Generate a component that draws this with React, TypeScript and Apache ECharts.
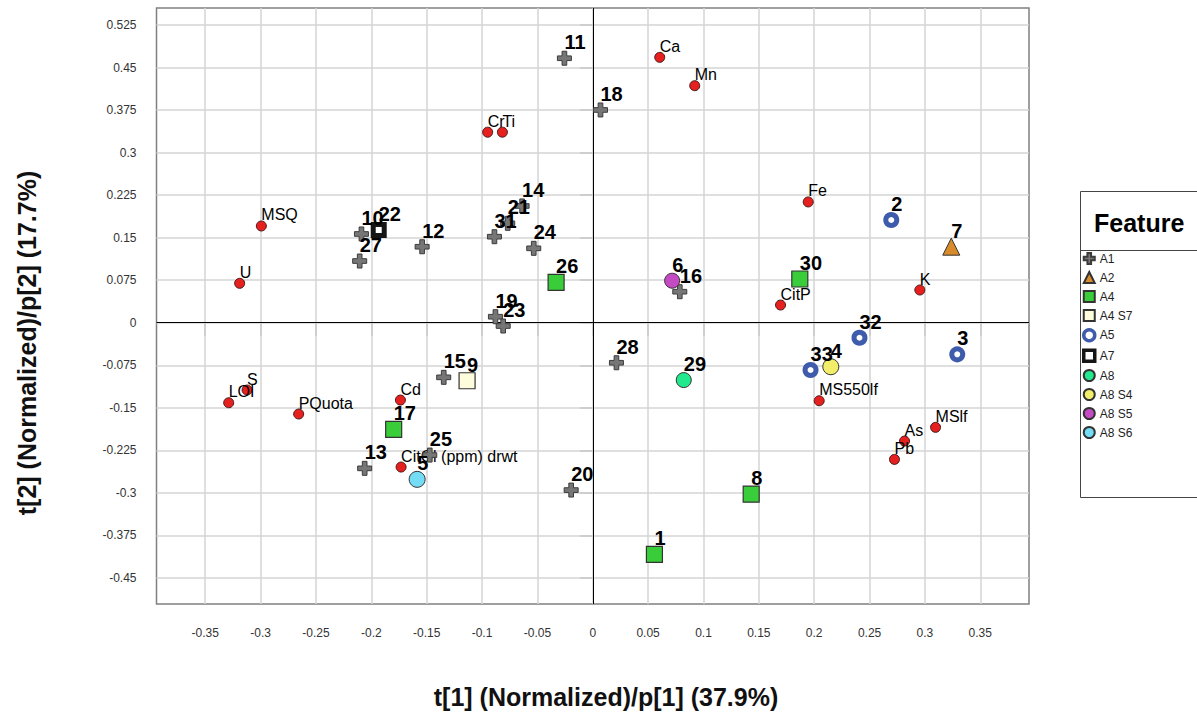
import React, { useEffect, useRef } from "react";
import * as echarts from "echarts";

// ---------- data ----------
const X_TICKS = [-0.35, -0.3, -0.25, -0.2, -0.15, -0.1, -0.05, 0, 0.05, 0.1, 0.15, 0.2, 0.25, 0.3, 0.35];
const Y_TICKS = [-0.45, -0.375, -0.3, -0.225, -0.15, -0.075, 0, 0.075, 0.15, 0.225, 0.3, 0.375, 0.45, 0.525];

const VAR_NAMES = ["Ca", "Mn", "Cr", "Ti", "Fe", "MSQ", "U", "K", "CitP", "S", "LOI", "PQuota", "Cd", "MS550lf", "MSlf", "As", "Pb", "CitOl (ppm) drwt"];
const VAR_T1 = [0.0605, 0.0921, -0.0949, -0.0816, 0.1946, -0.2993, -0.3189, 0.2954, 0.1696, -0.3122, -0.3288, -0.2656, -0.1737, 0.2045, 0.3096, 0.2816, 0.2725, -0.1731];
const VAR_T2 = [0.468, 0.418, 0.336, 0.336, 0.213, 0.1706, 0.0695, 0.0577, 0.0312, -0.1187, -0.1411, -0.161, -0.1364, -0.1376, -0.1845, -0.2087, -0.241, -0.2545];

const A1_IDS = ["10", "27", "12", "14", "21", "31", "24", "19", "23", "18", "11", "16", "28", "20", "13", "25", "15"];
const A1_T1 = [-0.2089, -0.2105, -0.1541, -0.0638, -0.0768, -0.0888, -0.0533, -0.0879, -0.0809, 0.007, -0.0256, 0.0786, 0.0214, -0.0195, -0.206, -0.1472, -0.1346];
const A1_T2 = [0.1565, 0.1088, 0.134, 0.2059, 0.1753, 0.1517, 0.1312, 0.0106, -0.0058, 0.3752, 0.4664, 0.0547, -0.0706, -0.2951, -0.2568, -0.2334, -0.0963];

const A2_IDS = ["7"];
const A2_T1 = [0.3238];
const A2_T2 = [0.1341];

const A4_IDS = ["26", "30", "17", "8", "1"];
const A4_T1 = [-0.0331, 0.187, -0.1798, 0.1431, 0.0557];
const A4_T2 = [0.0713, 0.0771, -0.188, -0.3022, -0.4085];

const A4S7_IDS = ["9"];
const A4S7_T1 = [-0.1135];
const A4S7_T2 = [-0.1023];

const A5_IDS = ["2", "32", "3", "33"];
const A5_T1 = [0.2696, 0.2409, 0.3292, 0.1967];
const A5_T2 = [0.1812, -0.0265, -0.0557, -0.0834];

const A7_IDS = ["22"];
const A7_T1 = [-0.1933];
const A7_T2 = [0.1635];

const A8_IDS = ["29"];
const A8_T1 = [0.0822];
const A8_T2 = [-0.1011];

const A8S4_IDS = ["4"];
const A8S4_T1 = [0.215];
const A8S4_T2 = [-0.0776];

const A8S5_IDS = ["6"];
const A8S5_T1 = [0.0717];
const A8S5_T2 = [0.0741];

const A8S6_IDS = ["5"];
const A8S6_T1 = [-0.1586];
const A8S6_T2 = [-0.2762];

const LEGEND_NAMES = ["A1", "A2", "A4", "A4 S7", "A5", "A7", "A8", "A8 S4", "A8 S5", "A8 S6"];

// ---------- styling ----------
const FONT = "'Liberation Sans', Arial, Helvetica, sans-serif";
const CROSS = "path://M4,0 H8 V4 H12 V8 H8 V12 H4 V8 H0 V4 H4 Z";

const build = (ids: string[], xs: number[], ys: number[]) =>
  ids.map((id, i) => ({ name: id, value: [xs[i], ys[i]] }));

const obsLabel = {
  show: true,
  position: "inside" as const,
  align: "left" as const,
  verticalAlign: "middle" as const,
  offset: [0, -16],
  formatter: "{b}",
  fontFamily: FONT,
  fontSize: 20,
  fontWeight: "bold" as const,
  color: "#000",
};

const obsSeries = (
  name: string,
  data: any[],
  symbol: string,
  size: number,
  color: string,
  borderColor: string,
  borderWidth: number
) => ({
  type: "scatter",
  name,
  data,
  symbol,
  symbolSize: size,
  z: 5,
  itemStyle: { color, borderColor, borderWidth, opacity: 1 },
  label: obsLabel,
  emphasis: { disabled: true },
});

export default function App() {
  const ref = useRef<HTMLDivElement>(null);

  useEffect(() => {
    if (!ref.current) return;
    const chart = echarts.init(ref.current, undefined, { renderer: "svg" });

    const legendData = LEGEND_NAMES.map((n) => {
      if (n === "A5") return { name: n, itemStyle: { color: "#ffffff", borderColor: "#3f5bab", borderWidth: 3.5 } };
      if (n === "A7") return { name: n, itemStyle: { color: "#ffffff", borderColor: "#151515", borderWidth: 3.5 } };
      return { name: n };
    });

    const option: any = {
      animation: false,
      backgroundColor: "#ffffff",
      textStyle: { fontFamily: FONT },
      grid: {
        left: 156.5,
        top: 8,
        width: 872.5,
        height: 596,
        show: true,
        borderColor: "#808080",
        borderWidth: 1.5,
        containLabel: false,
        outerBoundsMode: "none",
      },
      xAxis: {
        type: "value",
        min: -0.394,
        max: 0.394,
        axisLine: { show: false },
        axisTick: { show: true, length: 13, lineStyle: { color: "#c8c8c8", width: 1.5 }, customValues: X_TICKS },
        axisLabel: {
          customValues: X_TICKS,
          margin: 23,
          fontSize: 12,
          color: "#333",
          fontFamily: FONT,
          formatter: (v: number) => String(+Number(v).toFixed(3)),
        },
        splitLine: { show: true, lineStyle: { color: "#d4d4d4", width: 1.5 } },
      },
      yAxis: {
        type: "value",
        min: -0.496,
        max: 0.555,
        axisLine: { show: false },
        axisTick: { show: true, length: 13, lineStyle: { color: "#c8c8c8", width: 1.5 }, customValues: Y_TICKS },
        axisLabel: {
          customValues: Y_TICKS,
          margin: 20,
          fontSize: 12,
          color: "#333",
          fontFamily: FONT,
          formatter: (v: number) => String(+Number(v).toFixed(3)),
        },
        splitLine: { show: true, lineStyle: { color: "#d4d4d4", width: 1.5 } },
      },
      legend: {
        data: legendData,
        orient: "vertical",
        left: 1082,
        top: 252,
        itemWidth: 11,
        itemHeight: 11,
        itemGap: 6,
        padding: 0,
        textStyle: { fontSize: 12, color: "#222", fontFamily: FONT },
        selectedMode: false,
      },
      graphic: [
        {
          type: "rect",
          shape: { x: 1080.5, y: 191.5, width: 140, height: 306 },
          style: { fill: "#fff", stroke: "#444", lineWidth: 1 },
          z: -1,
          silent: true,
        },
        {
          type: "line",
          shape: { x1: 1080.5, y1: 250.5, x2: 1197, y2: 250.5 },
          style: { stroke: "#444", lineWidth: 1 },
          silent: true,
        },
        {
          type: "text",
          x: 1094,
          y: 223,
          style: {
            text: "Feature",
            font: `bold 25px ${FONT}`,
            fill: "#000",
            textAlign: "left",
            textVerticalAlign: "middle",
          },
          silent: true,
        },
        {
          type: "text",
          x: 606,
          y: 697,
          style: {
            text: "t[1] (Normalized)/p[1] (37.9%)",
            font: `bold 25px ${FONT}`,
            fill: "#111",
            textAlign: "center",
            textVerticalAlign: "middle",
          },
          silent: true,
        },
        {
          type: "text",
          x: 27,
          y: 343,
          rotation: Math.PI / 2,
          style: {
            text: "t[2] (Normalized)/p[2] (17.7%)",
            font: `bold 25px ${FONT}`,
            fill: "#111",
            textAlign: "center",
            textVerticalAlign: "middle",
          },
          silent: true,
        },
      ],
      series: [
        {
          type: "scatter",
          name: "Variables",
          data: build(VAR_NAMES, VAR_T1, VAR_T2),
          symbol: "circle",
          symbolSize: 10,
          z: 3,
          itemStyle: { color: "#e5201f", borderColor: "#4a1a1a", borderWidth: 1, opacity: 1 },
          label: {
            show: true,
            position: "inside",
            align: "left",
            verticalAlign: "middle",
            offset: [0, -11],
            formatter: "{b}",
            fontFamily: FONT,
            fontSize: 16,
            color: "#000",
          },
          emphasis: { disabled: true },
          markLine: {
            silent: true,
            symbol: ["none", "none"],
            label: { show: false },
            lineStyle: { color: "#000", width: 1, type: "solid" },
            data: [{ xAxis: 0 }, { yAxis: 0 }],
          },
        },
        obsSeries("A1", build(A1_IDS, A1_T1, A1_T2), CROSS, 14, "#767676", "#3c3c3c", 1),
        obsSeries("A2", build(A2_IDS, A2_T1, A2_T2), "triangle", 17, "#d98a2b", "#333", 1),
        obsSeries("A4", build(A4_IDS, A4_T1, A4_T2), "rect", 16, "#3acd3a", "#333", 1.2),
        obsSeries("A4 S7", build(A4S7_IDS, A4S7_T1, A4S7_T2), "rect", 16, "#fdfcdc", "#333", 1.2),
        obsSeries("A5", build(A5_IDS, A5_T1, A5_T2), "circle", 11, "#ffffff", "#3f5bab", 5),
        obsSeries("A7", build(A7_IDS, A7_T1, A7_T2), "rect", 11, "#ffffff", "#151515", 5),
        obsSeries("A8", build(A8_IDS, A8_T1, A8_T2), "circle", 15, "#22e88e", "#333", 1),
        obsSeries("A8 S4", build(A8S4_IDS, A8S4_T1, A8S4_T2), "circle", 16, "#f2ee6a", "#333", 1),
        obsSeries("A8 S5", build(A8S5_IDS, A8S5_T1, A8S5_T2), "circle", 15, "#c54bc5", "#333", 1),
        obsSeries("A8 S6", build(A8S6_IDS, A8S6_T1, A8S6_T2), "circle", 16, "#74dcf4", "#333", 1),
      ],
    };

    chart.setOption(option);
    return () => chart.dispose();
  }, []);

  return (
    <div
      ref={ref}
      style={{ position: "fixed", left: 0, top: 0, width: 1197, height: 715, background: "#fff" }}
    />
  );
}
